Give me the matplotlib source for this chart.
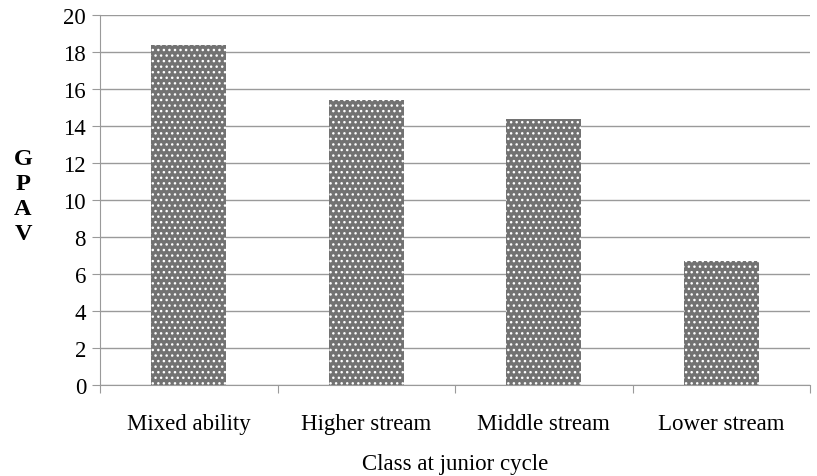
import numpy as np
import matplotlib.pyplot as plt

plt.rcParams['font.family'] = 'Liberation Serif'
plt.rcParams['hatch.color'] = 'white'
plt.rcParams['hatch.linewidth'] = 1.0

categories = ["Mixed ability", "Higher stream", "Middle stream", "Lower stream"]
gpav = [18.4, 15.4, 14.4, 6.7]

fig = plt.figure(figsize=(8.17, 4.77), dpi=100)
ax = fig.add_axes([100/817, 91/477, 710/817, 370/477])

x = np.arange(len(categories))
ax.bar(x, gpav, width=0.42, color='#727272', edgecolor='white', linewidth=0,
       hatch='...', zorder=3)

ax.set_xlim(-0.5, len(categories) - 0.5)
ax.set_ylim(0, 20)
ax.set_yticks(np.arange(0, 21, 2))
ax.yaxis.grid(True, color='#9a9a9a', linewidth=1)
ax.set_axisbelow(True)

# category boundaries as major ticks, labels on minor ticks
ax.set_xticks(np.arange(-0.5, len(categories), 1.0))
ax.set_xticklabels([])
ax.set_xticks(x, minor=True)
ax.set_xticklabels(categories, minor=True, fontsize=16.5)
ax.tick_params(axis='x', which='minor', length=0, pad=20)
ax.tick_params(axis='x', which='major', length=6, color='#9a9a9a')
ax.tick_params(axis='y', length=6, color='#9a9a9a', labelsize=16.5, pad=4)

for side in ['top', 'right']:
    ax.spines[side].set_visible(False)
ax.spines['left'].set_color('#9a9a9a')
ax.spines['bottom'].set_color('#9a9a9a')

ax.set_xlabel("Class at junior cycle", fontsize=16.5, labelpad=14)
fig.text(23/817, 1 - 197/477, "G\nP\nA\nV", fontsize=17.5, fontweight='bold',
         ha='center', va='center', linespacing=1.25)

fig.savefig('out.png', dpi=100)
